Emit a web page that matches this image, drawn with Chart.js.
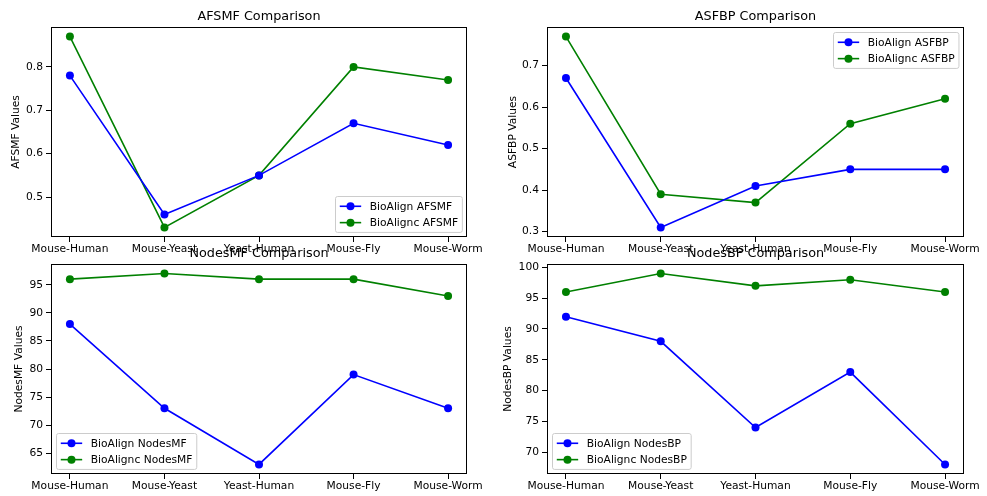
<!DOCTYPE html>
<html>
<head>
<meta charset="utf-8">
<script src="https://cdn.jsdelivr.net/npm/chart.js@4.4.0/dist/chart.umd.min.js"></script>
<style>
html, body { margin: 0; padding: 0; background: #fff; }
#wrap { position: relative; width: 987px; height: 496px; }
#wrap canvas { position: absolute; left: 0; top: 0; }
</style>
</head>
<body>
<div id="wrap">
  <canvas id="afsmf-chart" width="987" height="496"></canvas>
  <canvas id="asfbp-chart" width="987" height="496"></canvas>
  <canvas id="nodesmf-chart" width="987" height="496"></canvas>
  <canvas id="nodesbp-chart" width="987" height="496"></canvas>
</div>
<script>
const pairs = ['Mouse-Human', 'Mouse-Yeast', 'Yeast-Human', 'Mouse-Fly', 'Mouse-Worm'];

const bioAlignAFSMF = [0.78, 0.46, 0.55, 0.67, 0.62];
const bioAligncAFSMF = [0.87, 0.43, 0.55, 0.80, 0.77];
const bioAlignASFBP = [0.67, 0.31, 0.41, 0.45, 0.45];
const bioAligncASFBP = [0.77, 0.39, 0.37, 0.56, 0.62];
const bioAlignNodesMF = [88, 73, 63, 79, 73];
const bioAligncNodesMF = [96, 97, 96, 96, 93];
const bioAlignNodesBP = [92, 88, 74, 83, 68];
const bioAligncNodesBP = [96, 99, 97, 98, 96];

const ticksAFSMF = [0.5, 0.6, 0.7, 0.8];
const ticksASFBP = [0.3, 0.4, 0.5, 0.6, 0.7];
const ticksNodesMF = [65, 70, 75, 80, 85, 90, 95];
const ticksNodesBP = [70, 75, 80, 85, 90, 95, 100];

const FONT = '"DejaVu Sans", sans-serif';
const TICK_SIZE = 10.7;
const TITLE_SIZE = 12.8;
const W = 987, H = 496;
const MARKER = 4;

// frame (all four spines) and the axes title
const framePlugin = {
    id: 'frame',
    afterDatasetsDraw(chart, args, opts) {
        const ctx = chart.ctx;
        const a = chart.chartArea;
        ctx.save();
        ctx.strokeStyle = '#000';
        ctx.lineWidth = 1;
        ctx.strokeRect(Math.round(a.left) + 0.5, Math.round(a.top) + 0.5,
            Math.round(a.right - a.left) - 1, Math.round(a.bottom - a.top) - 1);
        ctx.fillStyle = '#000';
        ctx.font = TITLE_SIZE + 'px ' + FONT;
        ctx.textAlign = 'center';
        ctx.textBaseline = 'alphabetic';
        ctx.fillText(opts.text, (a.left + a.right) / 2, a.top - 6.6);
        ctx.restore();
    }
};

// matplotlib style legend box
const legendBox = {
    id: 'legendBox',
    afterDraw(chart, args, opts) {
        const ctx = chart.ctx;
        const a = chart.chartArea;
        const fs = TICK_SIZE;
        const items = chart.data.datasets;
        ctx.save();
        ctx.font = fs + 'px ' + FONT;
        const textW = Math.max(...items.map(d => ctx.measureText(d.label).width));
        const pad = 0.4 * fs, hl = 2 * fs, htp = 0.8 * fs, ls = 0.5 * fs, rowH = 11, axp = 0.5 * fs;
        const w = 2 * pad + hl + htp + textW;
        const h = 2 * pad + items.length * rowH + (items.length - 1) * ls;
        let x = opts.loc.includes('right') ? a.right - axp - w : a.left + axp;
        let y = opts.loc.includes('upper') ? a.top + axp : a.bottom - axp - h;
        x = Math.round(x) + 0.5;
        y = Math.round(y) + 0.5;
        const r = 0.2 * fs;
        ctx.beginPath();
        ctx.moveTo(x + r, y);
        ctx.lineTo(x + w - r, y);
        ctx.arcTo(x + w, y, x + w, y + r, r);
        ctx.lineTo(x + w, y + h - r);
        ctx.arcTo(x + w, y + h, x + w - r, y + h, r);
        ctx.lineTo(x + r, y + h);
        ctx.arcTo(x, y + h, x, y + h - r, r);
        ctx.lineTo(x, y + r);
        ctx.arcTo(x, y, x + r, y, r);
        ctx.closePath();
        ctx.fillStyle = 'rgba(255,255,255,0.8)';
        ctx.fill();
        ctx.strokeStyle = '#cccccc';
        ctx.lineWidth = 1;
        ctx.stroke();
        items.forEach((d, i) => {
            const cy = y + pad + rowH / 2 + i * (rowH + ls);
            ctx.strokeStyle = d.borderColor;
            ctx.lineWidth = 1.6;
            ctx.beginPath();
            ctx.moveTo(x + pad, cy);
            ctx.lineTo(x + pad + hl, cy);
            ctx.stroke();
            ctx.fillStyle = d.borderColor;
            ctx.beginPath();
            ctx.arc(x + pad + hl / 2, cy, MARKER, 0, Math.PI * 2);
            ctx.fill();
            ctx.fillStyle = '#000';
            ctx.textAlign = 'left';
            ctx.textBaseline = 'middle';
            ctx.fillText(d.label, x + pad + hl + htp, cy + 0.5);
        });
        ctx.restore();
    }
};

function series(label, values, color) {
    return {
        label: label,
        data: values.map((v, i) => ({ x: i, y: v })),
        borderColor: color,
        backgroundColor: color,
        borderWidth: 1.6,
        pointRadius: MARKER,
        pointBorderWidth: 0,
        pointBackgroundColor: color,
        tension: 0
    };
}

function makeChart(id, cfg) {
    const area = cfg.area;
    const all = cfg.sets.flatMap(s => s.values);
    const lo = Math.min(...all), hi = Math.max(...all);
    const m = (hi - lo) * 0.05;
    const leftPad = cfg.leftPad;

    return new Chart(document.getElementById(id).getContext('2d'), {
        type: 'line',
        data: {
            datasets: cfg.sets.map(s => series(s.label, s.values, s.color))
        },
        options: {
            responsive: false,
            animation: false,
            events: [],
            layout: {
                padding: { left: leftPad, top: area.top, right: W - area.right, bottom: 0 }
            },
            plugins: {
                legend: { display: false },
                tooltip: { enabled: false },
                frame: { text: cfg.title },
                legendBox: { loc: cfg.legendLoc }
            },
            scales: {
                x: {
                    type: 'linear',
                    min: -0.2,
                    max: pairs.length - 1 + 0.2,
                    afterBuildTicks: s => { s.ticks = pairs.map((p, i) => ({ value: i })); },
                    afterFit: s => { s.height = H - area.bottom; },
                    border: { display: false },
                    grid: { drawOnChartArea: false, drawTicks: true, tickLength: 5, tickColor: '#000', tickWidth: 1 },
                    ticks: {
                        callback: v => pairs[v],
                        autoSkip: false,
                        maxRotation: 0,
                        padding: 1,
                        color: '#000',
                        font: { family: FONT, size: TICK_SIZE }
                    }
                },
                y: {
                    type: 'linear',
                    min: lo - m,
                    max: hi + m,
                    afterBuildTicks: s => { s.ticks = cfg.ticks.map(v => ({ value: v })); },
                    afterFit: s => { s.width = area.left - leftPad; },
                    border: { display: false },
                    grid: { drawOnChartArea: false, drawTicks: true, tickLength: 5, tickColor: '#000', tickWidth: 1 },
                    ticks: {
                        callback: v => v.toFixed(cfg.decimals),
                        padding: 3,
                        color: '#000',
                        font: { family: FONT, size: TICK_SIZE }
                    },
                    title: {
                        display: true,
                        text: cfg.yTitle,
                        color: '#000',
                        font: { family: FONT, size: TICK_SIZE },
                        padding: { top: cfg.yTitleX - leftPad - TICK_SIZE * 0.6, bottom: 0 }
                    }
                }
            }
        },
        plugins: [framePlugin, legendBox]
    });
}

makeChart('afsmf-chart', {
    title: 'AFSMF Comparison',
    yTitle: 'AFSMF Values',
    area: { left: 51, top: 27, right: 467, bottom: 237 },
    leftPad: 0, yTitleX: 16,
    ticks: ticksAFSMF, decimals: 1,
    legendLoc: 'lower right',
    sets: [
        { label: 'BioAlign AFSMF', values: bioAlignAFSMF, color: '#0000ff' },
        { label: 'BioAlignc AFSMF', values: bioAligncAFSMF, color: '#008000' }
    ]
});

makeChart('asfbp-chart', {
    title: 'ASFBP Comparison',
    yTitle: 'ASFBP Values',
    area: { left: 547, top: 27, right: 964, bottom: 237 },
    leftPad: 490, yTitleX: 513,
    ticks: ticksASFBP, decimals: 1,
    legendLoc: 'upper right',
    sets: [
        { label: 'BioAlign ASFBP', values: bioAlignASFBP, color: '#0000ff' },
        { label: 'BioAlignc ASFBP', values: bioAligncASFBP, color: '#008000' }
    ]
});

makeChart('nodesmf-chart', {
    title: 'NodesMF Comparison',
    yTitle: 'NodesMF Values',
    area: { left: 51, top: 264, right: 467, bottom: 474 },
    leftPad: 0, yTitleX: 19,
    ticks: ticksNodesMF, decimals: 0,
    legendLoc: 'lower left',
    sets: [
        { label: 'BioAlign NodesMF', values: bioAlignNodesMF, color: '#0000ff' },
        { label: 'BioAlignc NodesMF', values: bioAligncNodesMF, color: '#008000' }
    ]
});

makeChart('nodesbp-chart', {
    title: 'NodesBP Comparison',
    yTitle: 'NodesBP Values',
    area: { left: 547, top: 264, right: 964, bottom: 474 },
    leftPad: 490, yTitleX: 508,
    ticks: ticksNodesBP, decimals: 0,
    legendLoc: 'lower left',
    sets: [
        { label: 'BioAlign NodesBP', values: bioAlignNodesBP, color: '#0000ff' },
        { label: 'BioAlignc NodesBP', values: bioAligncNodesBP, color: '#008000' }
    ]
});
</script>
</body>
</html>
